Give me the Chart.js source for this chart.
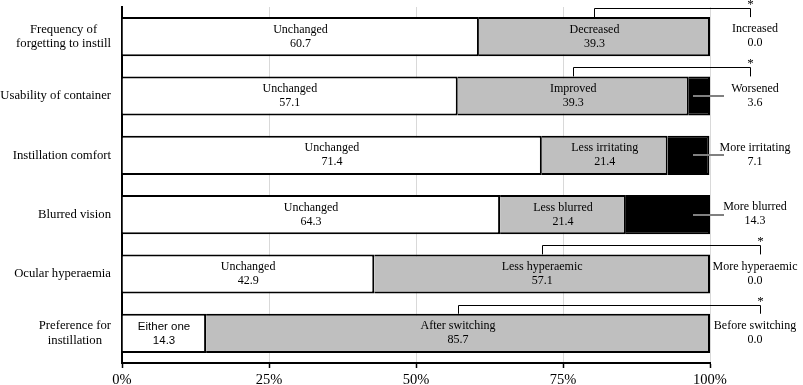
<!DOCTYPE html>
<html><head><meta charset="utf-8">
<script src="https://cdn.jsdelivr.net/npm/chart.js@4/dist/chart.umd.min.js"></script>
<style>html,body{margin:0;padding:0;background:#fff}#wrap{width:803px;height:385px}</style>
</head><body><div id="wrap"><canvas id="c" width="803" height="385"></canvas></div>
<script>
const categories = [['Frequency of','forgetting to instill'],'Usability of container','Instillation comfort','Blurred vision','Ocular hyperaemia',['Preference for','instillation']];
const unchangedValues = [60.7, 57.1, 71.4, 64.3, 42.9, 14.3];
const betterValues = [39.3, 39.3, 21.4, 21.4, 57.1, 85.7];
const worseValues = [0.0, 3.6, 7.1, 14.3, 0.0, 0.0];
const unchangedLabels = ['Unchanged','Unchanged','Unchanged','Unchanged','Unchanged','Either one'];
const betterLabels = ['Decreased','Improved','Less irritating','Less blurred','Less hyperaemic','After switching'];
const worseLabels = ['Increased','Worsened','More irritating','More blurred','More hyperaemic','Before switching'];
const significant = [true, true, false, false, true, true];
const xTickValues = [0, 25, 50, 75, 100];

const SERIF = '"Liberation Serif", "Times New Roman", serif';
const SANS = '"Liberation Sans", Arial, sans-serif';

const annotate = {
  id: 'annotate',
  afterDatasetsDraw(chart) {
    const ctx = chart.ctx;
    const xs = chart.scales.x, ys = chart.scales.y;
    const meta = chart.getDatasetMeta(0);
    ctx.save();
    ctx.fillStyle = '#000';
    ctx.textBaseline = 'middle';
    ctx.textAlign = 'center';
    for (let i = 0; i < categories.length; i++) {
      const yc = ys.getPixelForValue(i);
      const h = meta.data[i].height;
      const top = yc - h / 2;
      const u = unchangedValues[i], b = betterValues[i], w = worseValues[i];
      // inside labels
      ctx.font = (i === 5 ? '11.5px ' + SANS : '12px ' + SERIF);
      const xu = xs.getPixelForValue(u / 2);
      ctx.fillText(unchangedLabels[i], xu, yc - 7);
      ctx.fillText(u.toFixed(1), xu, yc + 7);
      ctx.font = '12px ' + SERIF;
      const xb = xs.getPixelForValue(u + b / 2);
      ctx.fillText(betterLabels[i], xb, yc - 7);
      ctx.fillText(b.toFixed(1), xb, yc + 7);
      // outside labels
      const xw = xs.right + 45;
      ctx.fillText(worseLabels[i], xw, yc - 7.5);
      ctx.fillText(w.toFixed(1), xw, yc + 6.5);
      // leader lines
      if (w > 0) {
        ctx.strokeStyle = '#808080';
        ctx.lineWidth = 2;
        ctx.beginPath();
        ctx.moveTo(xs.right - 17, Math.round(yc));
        ctx.lineTo(xs.right + 14, Math.round(yc));
        ctx.stroke();
      }
      // significance brackets
      if (significant[i]) {
        const xr = Math.round(xs.right + (i < 2 ? 40 : 50)) + 0.5;
        const xm = Math.round(xb) + 0.5;
        const hy = Math.round(top - 9) + 0.5;
        ctx.strokeStyle = '#000';
        ctx.lineWidth = 1;
        ctx.beginPath();
        ctx.moveTo(xm, top);
        ctx.lineTo(xm, hy);
        ctx.lineTo(xr, hy);
        ctx.lineTo(xr, top);
        ctx.stroke();
        ctx.font = '13px ' + SERIF;
        ctx.fillText('*', xr, hy - 4);
      }
      // category labels
      ctx.font = '12.7px ' + SERIF;
      const lines = Array.isArray(categories[i]) ? categories[i] : [categories[i]];
      let maxW = 0;
      lines.forEach(l => { maxW = Math.max(maxW, ctx.measureText(l).width); });
      const cx = xs.left - 11 - maxW / 2;
      if (lines.length === 1) {
        ctx.fillText(lines[0], cx, yc);
      } else {
        ctx.fillText(lines[0], cx, yc - 7.5);
        ctx.fillText(lines[1], cx, yc + 7);
      }
    }
    ctx.restore();
  }
};

new Chart(document.getElementById('c'), {
  type: 'bar',
  data: {
    labels: categories,
    datasets: [
      { label: 'Unchanged', data: unchangedValues, backgroundColor: '#ffffff', borderColor: '#000', borderWidth: 2 },
      { label: 'Better', data: betterValues, backgroundColor: '#bfbfbf', borderColor: '#000', borderWidth: 2 },
      { label: 'Worse', data: worseValues, backgroundColor: '#000000', borderColor: '#000', borderWidth: 2 }
    ]
  },
  options: {
    indexAxis: 'y',
    responsive: false,
    animation: false,
    devicePixelRatio: 1,
    barPercentage: 0.66,
    categoryPercentage: 1.0,
    layout: { padding: { left: 0, right: 93, top: 7, bottom: 0 } },
    plugins: { legend: { display: false }, tooltip: { enabled: false } },
    scales: {
      x: {
        stacked: true, min: 0, max: 100,
        afterBuildTicks: s => { s.ticks = xTickValues.map(v => ({ value: v })); },
        ticks: { callback: v => v + '%', color: '#000', font: { family: SERIF, size: 14.5 }, padding: 3, maxRotation: 0 },
        grid: { color: '#d9d9d9', lineWidth: 1, tickColor: '#000', tickLength: 5, tickWidth: 1.5 },
        border: { color: '#000', width: 2 },
        afterFit: s => { s.height = 22; }
      },
      y: {
        stacked: true,
        grid: { display: false },
        ticks: { display: false },
        border: { color: '#000', width: 2 },
        afterFit: s => { s.width = 122; }
      }
    }
  },
  plugins: [annotate]
});
</script>
</body></html>
